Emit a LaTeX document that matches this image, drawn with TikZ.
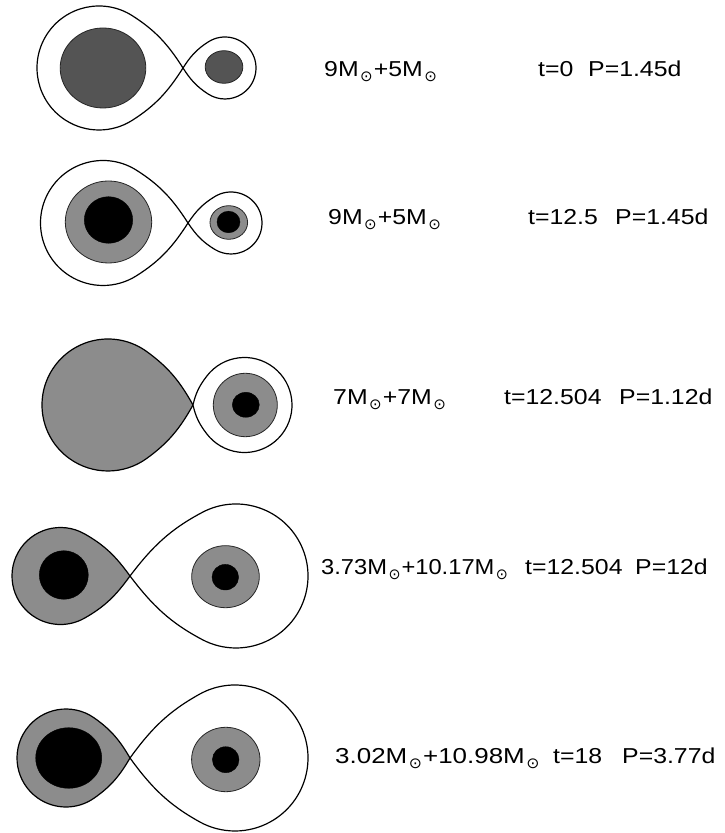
\documentclass[tikz,border=0pt]{standalone}
\usepackage{fontspec}
\setmainfont{Liberation Sans}[FakeStretch=1.15]
\newfontfamily\symbolfont{DejaVu Sans}
\definecolor{envgray}{gray}{0.55}
\definecolor{coregray}{gray}{0.33}
% solar-mass subscript
\newcommand{\msun}{M\kern1.5pt\raisebox{-4.5pt}{\symbolfont\fontsize{15}{15}\selectfont ⊙}\kern1pt}
% Roche lobe: #1 style, (#2,#3) centre of the round part, #4 radius,
% #5 distance from centre to the inner Lagrangian point, #6 = 1 (point on the right) or -1
\newcommand{\rochelobe}[6]{%
  \pgfmathsetmacro\tanang{acos(#4/#5)}%
  \pgfmathsetmacro\joinang{\tanang+15}%
  \pgfmathsetmacro\joinlow{360-\joinang}%
  \pgfmathsetmacro\outang{80+\tanang}%
  \pgfmathsetmacro\backang{-\outang}%
  \pgfmathsetmacro\inang{\joinang-90}%
  \pgfmathsetmacro\lowang{90-\joinang}%
  \pgfmathsetmacro\ctl{0.38*sqrt((#5-#4*cos(\joinang))^2+(#4*sin(\joinang))^2)}%
  \begin{scope}[shift={(#2,#3)},xscale=#6]
    \path[#1] (#5,0) .. controls +(\outang:\ctl) and +(\inang:\ctl) .. (\joinang:#4)
      arc[start angle=\joinang,end angle=\joinlow,radius=#4]
      .. controls +(\lowang:\ctl) and +(\backang:\ctl) .. (#5,0) -- cycle;
  \end{scope}}
\begin{document}
\begin{tikzpicture}[x=1pt,y=1pt,
  lobeline/.style={draw=black,line width=1.2pt,line join=round},
  emptylobe/.style={lobeline,fill=white},
  gaslobe/.style={lobeline,fill=envgray},
  envelope/.style={draw=black!85,line width=0.8pt,fill=envgray},
  mscore/.style={draw=black!85,line width=0.8pt,fill=coregray},
  hecore/.style={fill=black},
  txt/.style={anchor=base west,inner sep=0pt,font=\fontsize{21.6}{26}\selectfont}]
\useasboundingbox (0,0) rectangle (724,833);

% --- t = 0: two main-sequence stars inside their lobes
\rochelobe{emptylobe}{99}{765}{62}{84}{1}
\rochelobe{emptylobe}{225}{765}{31}{42}{-1}
\draw[mscore] (103,765) ellipse[x radius=42.8,y radius=40];
\draw[mscore] (224,766) ellipse[x radius=18.8,y radius=16.3];
\node[txt] (m1) at (324,756) {9\msun+5\msun};
\node[txt] (t1) at (538,756) {t=0};
\node[txt] (p1) at (588,756) {P=1.45d};

% --- t = 12.5: helium cores inside hydrogen envelopes
\rochelobe{emptylobe}{103}{610}{62.5}{85}{1}
\rochelobe{emptylobe}{231}{610}{31}{43}{-1}
\draw[envelope] (108.5,611) ellipse[x radius=43.2,y radius=41];
\draw[hecore] (108.5,613) ellipse[x radius=24.2,y radius=23.3];
\draw[envelope] (228.8,610.5) ellipse[x radius=18.8,y radius=16.8];
\draw[hecore] (228.5,611) ellipse[x radius=11.5,y radius=10.8];
\node[txt] (m2) at (328,608) {9\msun+5\msun};
\node[txt] (t2) at (528,608) {t=12.5};
\node[txt] (p2) at (615,608) {P=1.45d};

% --- t = 12.504: primary fills its lobe
\rochelobe{gaslobe}{108}{428}{66}{85}{1}
\rochelobe{emptylobe}{244.5}{428}{47.5}{51.5}{-1}
\draw[envelope] (245.3,428) ellipse[x radius=32,y radius=31.7];
\draw[hecore] (245.8,428.2) ellipse[x radius=13.5,y radius=12.5];
\node[txt] (m3) at (333,428) {7\msun+7\msun};
\node[txt] (t3) at (504,428) {t=12.504};
\node[txt] (p3) at (619,428) {P=1.12d};

% --- t = 12.504, after mass reversal
\rochelobe{gaslobe}{60.5}{257}{48.5}{69.5}{1}
\rochelobe{emptylobe}{236}{257}{72}{106}{-1}
\draw[hecore] (63.8,258) ellipse[x radius=24.5,y radius=24.3];
\draw[envelope] (225.5,256.3) ellipse[x radius=33.8,y radius=31];
\draw[hecore] (225.3,255.8) ellipse[x radius=13.3,y radius=12.8];
\node[txt,xscale=0.955,transform shape] (m4) at (321,258) {3.73\msun+10.17\msun};
\node[txt] (t4) at (525,258) {t=12.504};
\node[txt] (p4) at (635,258) {P=12d};

% --- t = 18
\rochelobe{gaslobe}{66}{75}{49}{64}{1}
\rochelobe{emptylobe}{235}{75}{73}{105}{-1}
\draw[hecore] (68.7,75) ellipse[x radius=33,y radius=30.3];
\draw[envelope] (225.8,73.5) ellipse[x radius=34.2,y radius=32.2];
\draw[hecore] (225.7,73.3) ellipse[x radius=13.3,y radius=13];
\node[txt,xscale=1.045,transform shape] (m5) at (335,69) {3.02\msun+10.98\msun};
\node[txt] (t5) at (553,69) {t=18};
\node[txt] (p5) at (622,69) {P=3.77d};
\end{tikzpicture}
\end{document}
